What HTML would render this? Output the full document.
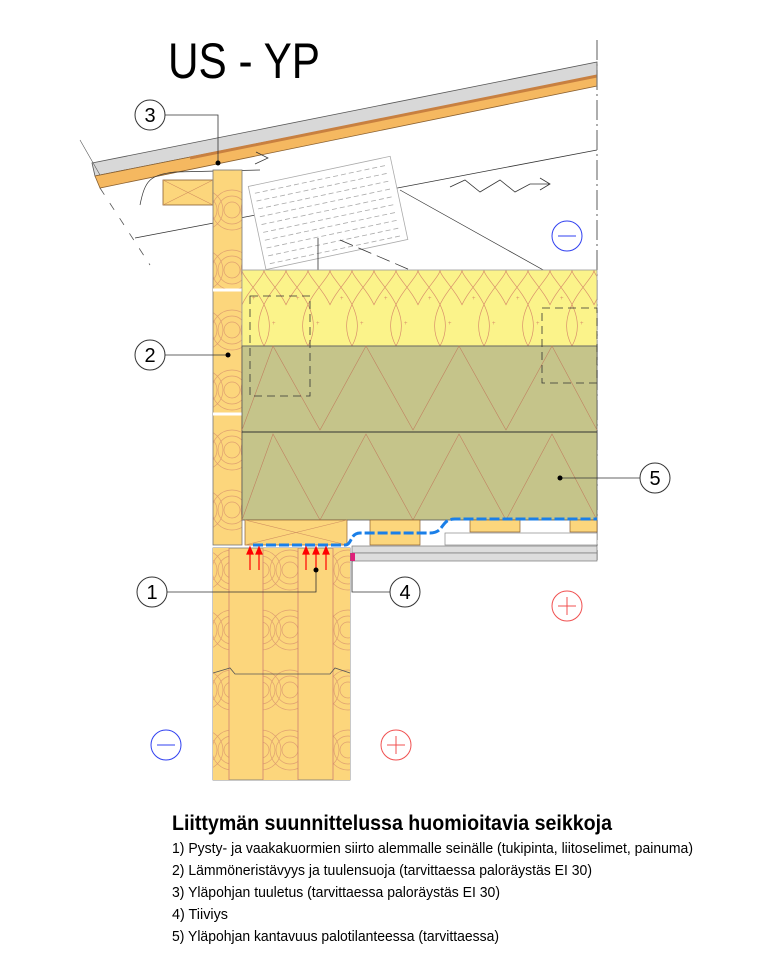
<!DOCTYPE html>
<html><head><meta charset="utf-8"><style>html,body{margin:0;padding:0;background:#fff}svg{display:block}</style></head>
<body>
<svg width="768" height="960" viewBox="0 0 768 960" xmlns="http://www.w3.org/2000/svg" font-family="Liberation Sans, sans-serif">
<defs>
<pattern id="ins" width="44" height="76" patternUnits="userSpaceOnUse" x="242" y="270">
<rect width="44" height="76" fill="#fbf38a"/>
<path d="M0 76 C-20 40 22 10 22 0 C22 10 64 40 44 76" fill="none" stroke="#d98f6a" stroke-width="0.7"/>
<path d="M22 76 C2 40 44 10 44 0 M22 76 C42 40 0 10 0 0" fill="none" stroke="#d98f6a" stroke-width="0.7"/>
<text x="10" y="30" font-size="6" fill="#d98f6a">+</text><text x="30" y="55" font-size="6" fill="#d98f6a">+</text>
</pattern>
<pattern id="wood" width="29" height="60" patternUnits="userSpaceOnUse">
<rect width="29" height="60" fill="#fcd67c"/>
<path d="M0 10 A20 20 0 0 1 0 50 M0 16 A14 14 0 0 1 0 44 M0 22 A8 8 0 0 1 0 38 M29 10 A20 20 0 0 0 29 50 M29 16 A14 14 0 0 0 29 44 M29 22 A8 8 0 0 0 29 38" fill="none" stroke="#e0a070" stroke-width="0.7"/>
</pattern>
</defs>

<text x="168" y="78" font-size="50" fill="#000" textLength="152" lengthAdjust="spacingAndGlyphs">US - YP</text>

<!-- roof -->
<polygon points="92,163 597,62 597,76 95,176" fill="#d8d8d8" stroke="#555" stroke-width="0.8"/>
<polygon points="95,176 597,76 597,86 100,188" fill="#f5b860" stroke="#8a6030" stroke-width="0.8"/>
<line x1="190" y1="158" x2="597" y2="76" stroke="#c88040" stroke-width="3"/>
<line x1="100" y1="188" x2="150" y2="265" stroke="#555" stroke-dasharray="8,10" stroke-width="0.8"/>
<line x1="80" y1="140" x2="100" y2="175" stroke="#555" stroke-width="0.6"/>
<polyline points="135,238 597,150" fill="none" stroke="#333" stroke-width="0.8"/>
<path d="M140 205 C145 180 150 175 175 172 L260 170" fill="none" stroke="#333" stroke-width="0.7"/>
<path d="M255 164 L268 158 L256 152" fill="none" stroke="#333" stroke-width="0.7"/>
<path d="M450 187 L465 180 L480 192 L500 180 L515 192 L530 184 L550 184 M540 178 L550 184 L540 190" fill="none" stroke="#333" stroke-width="0.8"/>
<line x1="597" y1="40" x2="597" y2="560" stroke="#777" stroke-width="1.2" stroke-dasharray="20,4,2,4"/>

<!-- mesh plate -->
<g transform="rotate(-12 330 210)">
<rect x="255" y="170" width="145" height="85" fill="#fff" stroke="#aaa" stroke-width="0.8"/>
<g stroke="#aaa" stroke-width="0.8" fill="none">
<path d="M260 178 H396 M260 186 H396 M260 194 H396 M260 202 H396 M260 210 H396 M260 218 H396 M260 226 H396 M260 234 H396 M260 242 H396 M260 250 H396" stroke-dasharray="5,3"/>
</g></g>
<line x1="318" y1="238" x2="318" y2="350" stroke="#333" stroke-width="0.8"/>
<line x1="340" y1="240" x2="597" y2="350" stroke="#333" stroke-width="0.7" stroke-dasharray="14,6"/>
<line x1="400" y1="190" x2="597" y2="300" stroke="#333" stroke-width="0.7"/>

<rect x="163" y="180" width="50" height="25" fill="#fcd67c" stroke="#8a6030" stroke-width="0.8"/>
<path d="M163 180 L213 205 M213 180 L163 205" stroke="#d09060" stroke-width="0.6"/>

<rect x="213" y="170" width="29" height="375" fill="url(#wood)" stroke="#777" stroke-width="0.8"/>
<line x1="213" y1="290" x2="242" y2="290" stroke="#fff" stroke-width="3"/>
<line x1="213" y1="414" x2="242" y2="414" stroke="#fff" stroke-width="3"/>

<rect x="242" y="270" width="355" height="76" fill="url(#ins)" stroke="#999" stroke-width="0.8"/>
<rect x="242" y="346" width="355" height="174" fill="#c5c48a" stroke="#555" stroke-width="0.8"/>
<line x1="242" y1="432" x2="597" y2="432" stroke="#333" stroke-width="1"/>
<path d="M242 430 L273 346 L320 430 L366 346 L413 430 L459 346 L506 430 L552 346 L597 430" fill="none" stroke="#c08060" stroke-width="0.6"/>
<path d="M242 520 L273 434 L320 520 L366 434 L413 520 L459 434 L506 520 L552 434 L597 520" fill="none" stroke="#c08060" stroke-width="0.6"/>
<rect x="250" y="296" width="60" height="100" fill="none" stroke="#333" stroke-dasharray="8,5" stroke-width="0.8"/>
<rect x="542" y="308" width="55" height="75" fill="none" stroke="#333" stroke-dasharray="8,5" stroke-width="0.8"/>

<rect x="245" y="520" width="102" height="25" fill="#fcd67c" stroke="#8a6030" stroke-width="0.7"/>
<path d="M245 520 L347 545 M347 520 L245 545" stroke="#d09060" stroke-width="0.6"/>
<rect x="370" y="520" width="50" height="25" fill="#fcd67c" stroke="#8a6030" stroke-width="0.7"/>
<rect x="470" y="520" width="50" height="12" fill="#fcd67c" stroke="#8a6030" stroke-width="0.7"/>
<rect x="570" y="520" width="27" height="12" fill="#fcd67c" stroke="#8a6030" stroke-width="0.7"/>
<rect x="445" y="533" width="152" height="12" fill="#fff" stroke="#888" stroke-width="0.7"/>
<rect x="352" y="546" width="245" height="7" fill="#ddd" stroke="#777" stroke-width="0.7"/>
<rect x="352" y="553" width="245" height="8" fill="#ddd" stroke="#777" stroke-width="0.7"/>
<path d="M253 545 L345 545 C352 545 350 533 360 533 L430 533 C445 533 440 519 455 519 L597 519" fill="none" stroke="#1a7fe8" stroke-width="3" stroke-dasharray="10,3"/>
<rect x="350" y="553" width="5" height="8" fill="#e0207a"/>

<rect x="213" y="548" width="137" height="232" fill="#fcd67c" stroke="#777" stroke-width="0.8"/>
<rect x="213" y="548" width="16" height="232" fill="url(#wood)"/>
<rect x="263" y="548" width="35" height="232" fill="url(#wood)"/>
<rect x="333" y="548" width="17" height="232" fill="url(#wood)"/>
<g stroke="#d08070" stroke-width="0.8"><line x1="229" y1="548" x2="229" y2="780"/><line x1="263" y1="548" x2="263" y2="780"/><line x1="298" y1="548" x2="298" y2="780"/><line x1="333" y1="548" x2="333" y2="780"/></g>
<path d="M213 673 L230 668 L235 674 L330 674 L335 668 L350 673" fill="none" stroke="#555" stroke-width="0.8"/>
<g stroke="#f00" stroke-width="1.2" fill="#f00">
<line x1="250" y1="570" x2="250" y2="552"/><polygon points="247,554 253,554 250,547"/>
<line x1="259" y1="570" x2="259" y2="552"/><polygon points="256,554 262,554 259,547"/>
<line x1="306" y1="570" x2="306" y2="552"/><polygon points="303,554 309,554 306,547"/>
<line x1="316" y1="570" x2="316" y2="552"/><polygon points="313,554 319,554 316,547"/>
<line x1="326" y1="570" x2="326" y2="552"/><polygon points="323,554 329,554 326,547"/>
</g>

<g stroke="#333" stroke-width="0.8" fill="none">
<polyline points="165,115 218,115 218,163"/>
<line x1="165" y1="355" x2="228" y2="355"/>
<line x1="640" y1="478" x2="560" y2="478"/>
<polyline points="167,592 316,592 316,570"/>
<polyline points="390,592 352,592 352,561"/>
</g>
<g fill="#000"><circle cx="218" cy="163" r="2.5"/><circle cx="228" cy="355" r="2.5"/><circle cx="560" cy="478" r="2.5"/><circle cx="316" cy="570" r="2.5"/></g>
<g fill="#fff" stroke="#333" stroke-width="1">
<circle cx="150" cy="115" r="15"/><circle cx="150" cy="355" r="15"/><circle cx="655" cy="478" r="15"/><circle cx="152" cy="592" r="15"/><circle cx="405" cy="592" r="15"/>
</g>
<g font-size="20" text-anchor="middle" fill="#000">
<text x="150" y="122">3</text><text x="150" y="362">2</text><text x="655" y="485">5</text><text x="152" y="599">1</text><text x="405" y="599">4</text>
</g>
<g fill="none" stroke-width="1">
<circle cx="567" cy="236" r="15" stroke="#3040f0"/><line x1="558" y1="236" x2="576" y2="236" stroke="#3040f0"/>
<circle cx="166" cy="745" r="15" stroke="#3040f0"/><line x1="157" y1="745" x2="175" y2="745" stroke="#3040f0"/>
<circle cx="567" cy="606" r="15" stroke="#f05050"/><path d="M558 606 H576 M567 597 V615" stroke="#f05050"/>
<circle cx="396" cy="745" r="15" stroke="#f05050"/><path d="M387 745 H405 M396 736 V754" stroke="#f05050"/>
</g>

<text x="172" y="830" font-size="21" font-weight="bold" textLength="440" lengthAdjust="spacingAndGlyphs">Liittymän suunnittelussa huomioitavia seikkoja</text>
<g font-size="15" fill="#000">
<text x="172" y="853" textLength="521" lengthAdjust="spacingAndGlyphs">1) Pysty- ja vaakakuormien siirto alemmalle seinälle (tukipinta, liitoselimet, painuma)</text>
<text x="172" y="875" textLength="420" lengthAdjust="spacingAndGlyphs">2) Lämmöneristävyys ja tuulensuoja (tarvittaessa paloräystäs EI 30)</text>
<text x="172" y="897" textLength="328" lengthAdjust="spacingAndGlyphs">3) Yläpohjan tuuletus (tarvittaessa paloräystäs EI 30)</text>
<text x="172" y="919" textLength="56" lengthAdjust="spacingAndGlyphs">4) Tiiviys</text>
<text x="172" y="941" textLength="327" lengthAdjust="spacingAndGlyphs">5) Yläpohjan kantavuus palotilanteessa (tarvittaessa)</text>
</g>
</svg>
</body></html>
